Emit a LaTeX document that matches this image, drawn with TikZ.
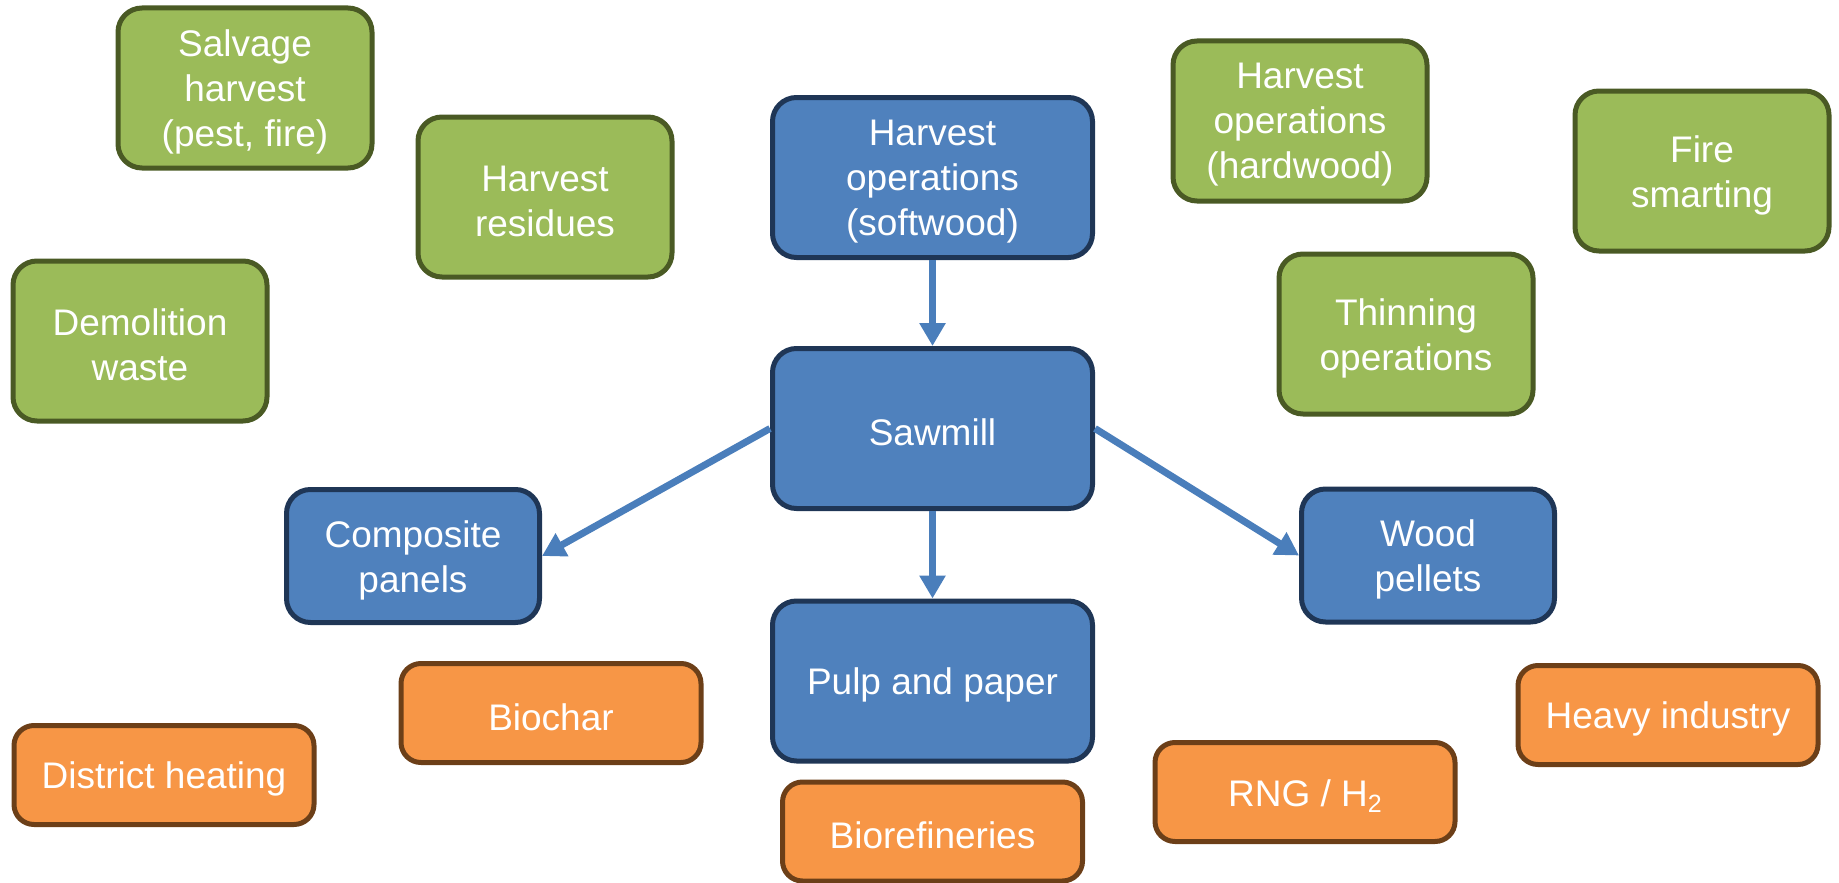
\documentclass[tikz,border=0pt]{standalone}
\usepackage{fontspec}
\setmainfont{Liberation Sans}
\usetikzlibrary{arrows.meta}

\definecolor{bluefill}{HTML}{4F81BD}
\definecolor{blueline}{HTML}{1F3656}
\definecolor{greenfill}{HTML}{9BBB59}
\definecolor{greenline}{HTML}{4A5A24}
\definecolor{orangefill}{HTML}{F79646}
\definecolor{orangeline}{HTML}{6C3F18}
\definecolor{arrowblue}{HTML}{4A7EBB}

\tikzset{
  box/.style={rectangle, rounded corners=24pt, line width=5pt, inner sep=0pt},
  boxtext/.style={text=white, align=center, inner sep=0pt,
    font=\fontsize{37}{45}\selectfont},
  bluebig/.style={box, fill=bluefill, draw=blueline, minimum width=320pt, minimum height=160pt},
  bluesmall/.style={box, fill=bluefill, draw=blueline, minimum width=253pt, minimum height=133pt},
  greenbox/.style={box, fill=greenfill, draw=greenline, minimum width=254pt, minimum height=160pt},
  orangebox/.style={box, fill=orangefill, draw=orangeline, minimum width=300pt, minimum height=99pt, rounded corners=20pt},
  flow/.style={draw=arrowblue, line width=7pt, -{Triangle[width=25pt,length=23pt]}}
}

% a rounded box with its caption set slightly below the centre
\newcommand{\flowbox}[4]{%
  \node[#2] (#1) at (#3) {};
  \node[boxtext] (#1-text) at ([yshift=-4pt]#1.center) {#4};}

\begin{document}
\begin{tikzpicture}[x=1pt, y=-1pt]
\useasboundingbox (0,0) rectangle (1839,883);

% feedstock sources
\flowbox{salvage}{greenbox}{245,88}{Salvage\\harvest\\(pest, fire)}
\flowbox{residues}{greenbox}{545,197}{Harvest\\residues}
\flowbox{demolition}{greenbox}{140,341}{Demolition\\waste}
\flowbox{hardwood}{greenbox}{1300,121}{Harvest\\operations\\(hardwood)}
\flowbox{firesmart}{greenbox}{1702,171}{Fire\\smarting}
\flowbox{thinning}{greenbox}{1406,334}{Thinning\\operations}

% softwood processing chain
\flowbox{softwood}{bluebig}{932.5,177.5}{Harvest\\operations\\(softwood)}
\flowbox{sawmill}{bluebig}{932.5,428.5}{Sawmill}
\flowbox{pulp}{bluebig}{932.5,681}{Pulp and paper}
\flowbox{composite}{bluesmall}{413,556}{Composite\\panels}
\flowbox{pellets}{bluesmall}{1428,555.5}{Wood\\pellets}

% end uses
\flowbox{biochar}{orangebox}{551,713}{Biochar}
\flowbox{district}{orangebox}{164,775}{District heating}
\flowbox{biorefine}{orangebox}{932.5,831.5}{Biorefineries}
\flowbox{rng}{orangebox}{1305,792}{RNG / H\raisebox{-0.28ex}{\fontsize{25}{25}\selectfont 2}}
\flowbox{heavy}{orangebox}{1668,715}{Heavy industry}

% flows out of the mill
\draw[flow] (softwood.south) -- (sawmill.north);
\draw[flow] (sawmill.south) -- (pulp.north);
\draw[flow] (sawmill.west) -- (composite.east);
\draw[flow] (sawmill.east) -- (pellets.west);
\end{tikzpicture}
\end{document}
